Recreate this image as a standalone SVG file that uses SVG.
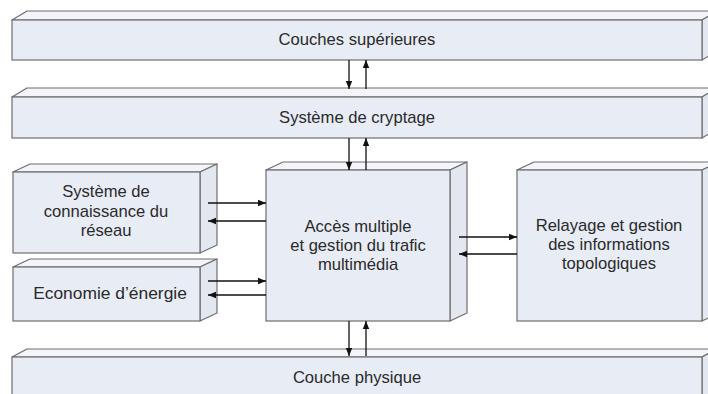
<svg xmlns="http://www.w3.org/2000/svg" width="708" height="394" viewBox="0 0 708 394">
<defs>
<style>
.front{fill:#e8ecf5;stroke:#6e6e6e;stroke-width:1.2}
.top{fill:#f3f5fa;stroke:#6e6e6e;stroke-width:1.2;stroke-linejoin:round}
.side{fill:#e2e7f0;stroke:#6e6e6e;stroke-width:1.2;stroke-linejoin:round}
.lbl{font-family:"Liberation Sans",Arial,sans-serif;font-size:16.6px;fill:#2a2a2a;text-anchor:middle}
.arr{stroke:#111;stroke-width:1.3;fill:none;marker-end:url(#ah)}
</style>
<marker id="ah" viewBox="0 0 10 10" refX="10" refY="5" markerWidth="8" markerHeight="8" markerUnits="userSpaceOnUse" orient="auto">
<path d="M0,1 L10,5 L0,9 Z" fill="#111"/>
</marker>
</defs>
<rect width="708" height="394" fill="#ffffff"/>

<g id="couches-superieures">
<polygon class="top" points="12,20 27,11 717,11 702,20"/>
<polygon class="side" points="702,20 717,11 717,51 702,60"/>
<rect class="front" x="12" y="20" width="690" height="40"/>
<text class="lbl" x="357" y="45">Couches supérieures</text>
</g>

<g id="cryptage">
<polygon class="top" points="12,97 27,88 717,88 702,97"/>
<polygon class="side" points="702,97 717,88 717,129 702,138"/>
<rect class="front" x="12" y="97" width="690" height="41"/>
<text class="lbl" x="357" y="123">Système de cryptage</text>
</g>

<g id="connaissance">
<polygon class="top" points="13,172 30,164 217,164 200,172"/>
<polygon class="side" points="200,172 217,164 217,245 200,253"/>
<rect class="front" x="13" y="172" width="187" height="81"/>
<text class="lbl" x="106" y="197">Système de</text>
<text class="lbl" x="106" y="217">connaissance du</text>
<text class="lbl" x="106" y="236">réseau</text>
</g>

<g id="energie">
<polygon class="top" points="13,267 30,259 217,259 200,267"/>
<polygon class="side" points="200,267 217,259 217,313 200,321"/>
<rect class="front" x="13" y="267" width="187" height="54"/>
<text class="lbl" x="110" y="299" style="font-size:17.4px">Economie d’énergie</text>
</g>

<g id="acces-multiple">
<polygon class="top" points="266,170 283,162 467,162 450,170"/>
<polygon class="side" points="450,170 467,162 467,313 450,321"/>
<rect class="front" x="266" y="170" width="184" height="151"/>
<text class="lbl" x="358" y="232">Accès multiple</text>
<text class="lbl" x="358" y="251">et gestion du trafic</text>
<text class="lbl" x="358" y="270">multimédia</text>
</g>

<g id="relayage">
<polygon class="top" points="517,170 534,162 719,162 702,170"/>
<polygon class="side" points="702,170 719,162 719,313 702,321"/>
<rect class="front" x="517" y="170" width="185" height="151"/>
<text class="lbl" x="609" y="231">Relayage et gestion</text>
<text class="lbl" x="609" y="250">des informations</text>
<text class="lbl" x="609" y="269">topologiques</text>
</g>

<g id="couche-physique">
<polygon class="top" points="12,357 27,349 717,349 702,357"/>
<polygon class="side" points="702,357 717,349 717,400 702,400"/>
<rect class="front" x="12" y="357" width="690" height="45"/>
<text class="lbl" x="357" y="383">Couche physique</text>
</g>

<g id="connectors">
<line class="arr" x1="349" y1="60" x2="349" y2="89"/>
<line class="arr" x1="366" y1="89" x2="366" y2="60"/>
<line class="arr" x1="349" y1="138" x2="349" y2="170"/>
<line class="arr" x1="366" y1="170" x2="366" y2="138"/>
<line class="arr" x1="349" y1="321" x2="349" y2="356"/>
<line class="arr" x1="366" y1="356" x2="366" y2="321"/>
<line class="arr" x1="208" y1="203" x2="266" y2="203"/>
<line class="arr" x1="266" y1="221" x2="208" y2="221"/>
<line class="arr" x1="208" y1="281" x2="266" y2="281"/>
<line class="arr" x1="266" y1="295" x2="208" y2="295"/>
<line class="arr" x1="459" y1="237" x2="517" y2="237"/>
<line class="arr" x1="517" y1="254" x2="459" y2="254"/>
</g>
</svg>
